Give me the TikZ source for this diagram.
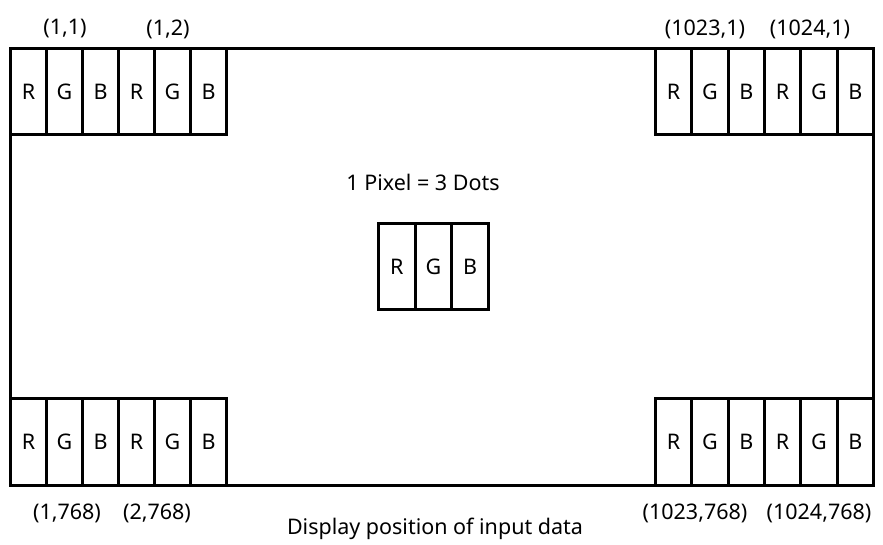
\documentclass[tikz,border=0pt]{standalone}
\usepackage{fontspec}
\setmainfont{Noto Sans}
\begin{document}
\begin{tikzpicture}[x=1pt,y=-1pt,
  txt/.style={font=\fontsize{21.5}{26}\selectfont},
  cell/.style={draw,line width=3pt,inner sep=0pt,anchor=north west,txt},
  lbl/.style={txt,inner sep=0pt}]
\useasboundingbox (0,0) rectangle (883,545);
\node[draw,line width=3pt,minimum width=863pt,minimum height=437pt,anchor=north west,inner sep=0pt] (screen) at (9,47) {};
% top left
\foreach \c [count=\i from 0] in {R,G,B,R,G,B}
  \node[cell,minimum width=36pt,minimum height=86pt] (tl\i) at ({9+36*\i},47) {\c};
% top right
\foreach \c [count=\i from 0] in {R,G,B,R,G,B}
  \node[cell,minimum width=36.33pt,minimum height=86pt] (tr\i) at ({654+36.33*\i},47) {\c};
% bottom left
\foreach \c [count=\i from 0] in {R,G,B,R,G,B}
  \node[cell,minimum width=36pt,minimum height=87pt] (bl\i) at ({9+36*\i},397) {\c};
% bottom right
\foreach \c [count=\i from 0] in {R,G,B,R,G,B}
  \node[cell,minimum width=36.33pt,minimum height=87pt] (br\i) at ({654+36.33*\i},397) {\c};
% center
\foreach \c [count=\i from 0] in {R,G,B}
  \node[cell,minimum width=36.67pt,minimum height=86pt] (c\i) at ({377+36.67*\i},222) {\c};
% labels
\node[lbl] (l11) at (65,29) {(1,1)};
\node[lbl] (l12) at (168,29) {(1,2)};
\node[lbl] (l10231) at (705,29) {(1023,1)};
\node[lbl] (l10241) at (810,29) {(1024,1)};
\node[lbl] (l1768) at (67,513) {(1,768)};
\node[lbl] (l2768) at (157,513) {(2,768)};
\node[lbl] (l1023768) at (695,513) {(1023,768)};
\node[lbl] (l1024768) at (819,513) {(1024,768)};
\node[lbl] (title) at (423,182) {1 Pixel = 3 Dots};
\node[lbl] (caption) at (435,529) {Display position of input data};
\end{tikzpicture}
\end{document}
